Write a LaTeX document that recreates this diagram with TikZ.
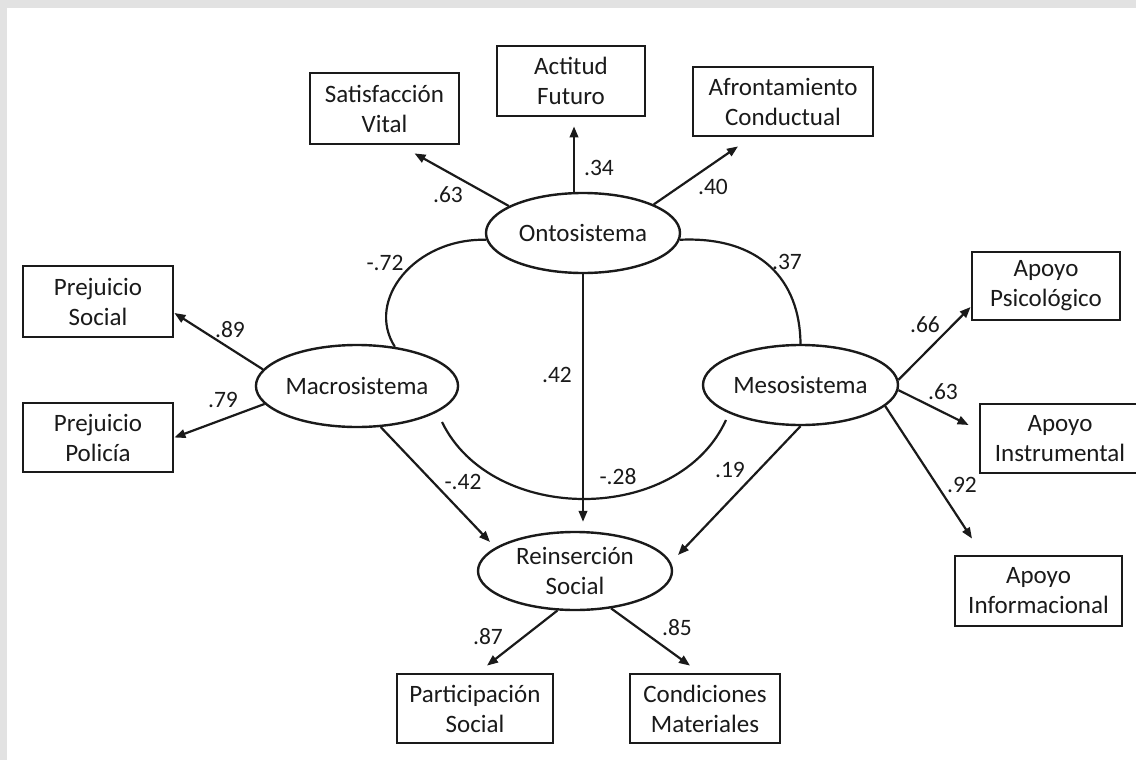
\documentclass[tikz,border=0pt]{standalone}
\usepackage{fontspec}
\setmainfont{Carlito}
\usetikzlibrary{shapes.geometric,arrows.meta}
\definecolor{ink}{HTML}{1A1A1A}
\definecolor{frame}{HTML}{E2E2E2}
\begin{document}
\begin{tikzpicture}[x=1pt,y=-1pt,
  box/.style={draw=ink, line width=2.8pt, inner sep=0pt, align=center, text=ink,
    font=\fontsize{25}{30}\selectfont},
  lat/.style={draw=ink, ellipse, line width=2.4pt, inner sep=0pt, align=center, text=ink,
    minimum width=194pt, minimum height=80pt, font=\fontsize{25}{30}\selectfont},
  arr/.style={draw=ink, line width=2.2pt, -{Triangle[length=11pt,width=8.5pt]}},
  cov/.style={draw=ink, line width=2.2pt},
  lab/.style={inner sep=0pt, text=ink, font=\fontsize{23.5}{28}\selectfont}]
\useasboundingbox (0,0) rectangle (1136,760);
\fill[frame] (0,0) rectangle (1136,760);
\fill[white] (7,8) rectangle (1136,760);

% observed variables
\node[box, minimum width=149pt, minimum height=71pt] (sat) at (384.5,108.5) {Satisfacción\\Vital};
\node[box, minimum width=148pt, minimum height=70pt] (act) at (571,81) {Actitud\\Futuro};
\node[box, minimum width=180pt, minimum height=69pt] (afr) at (783,101.5) {Afrontamiento\\Conductual};
\node[box, minimum width=150pt, minimum height=71pt] (prejs) at (98,301.5) {Prejuicio\\Social};
\node[box, minimum width=150pt, minimum height=69pt] (prejp) at (98,437.5) {Prejuicio\\Policía};
\node[box, minimum width=148pt, minimum height=68pt] (psic) at (1046,286) {Apoyo\\Psicológico};
\node[box, minimum width=160pt, minimum height=69pt] (instr) at (1060,438.5) {Apoyo\\Instrumental};
\node[box, minimum width=167pt, minimum height=70pt] (inf) at (1038.5,591) {Apoyo\\Informacional};
\node[box, minimum width=156pt, minimum height=69pt] (part) at (475,708.5) {Participación\\Social};
\node[box, minimum width=150pt, minimum height=69pt] (cond) at (705,708.5) {Condiciones\\Materiales};

% latent variables
\node[lat] (onto) at (583,233) {Ontosistema};
\node[lat, minimum height=82pt] (macro) at (357,386) {Macrosistema};
\node[lat, minimum width=195pt] (meso) at (800.5,385) {Mesosistema};
\node[lat, minimum height=78pt] (reins) at (575,571) {Reinserción\\Social};

% loadings
\draw[arr] (onto.160) -- ([xshift=30pt,yshift=-8pt]sat.south);
\draw[arr] ([xshift=-9pt]onto.north) -- ([xshift=3pt,yshift=-9pt]act.south);
\draw[arr] (onto.22) -- ([xshift=-45pt,yshift=-9pt]afr.south);
\draw[arr] (macro.170) -- ([yshift=-11.5pt]prejs.east);
\draw[arr] (macro.191) -- (prejp.east);
\draw[arr] (meso.3) -- ([yshift=-21pt]psic.west);
\draw[arr] (meso.357) -- ([xshift=-10pt,yshift=13.5pt]instr.west);
\draw[arr] (meso.346) -- ([xshift=-66.5pt,yshift=16pt]inf.north);
\draw[arr] (reins.246) -- ([xshift=12pt,yshift=7pt]part.north);
\draw[arr] (reins.314) -- ([xshift=-15pt,yshift=7pt]cond.north);

% structural paths
\draw[arr] (macro.300) -- ([xshift=-85pt,yshift=29pt]reins.center);
\draw[arr] (onto.south) -- ([xshift=8pt,yshift=9pt]reins.north);
\draw[arr] (meso.south) -- ([xshift=103pt,yshift=16pt]reins.center);

% covariances
\draw[cov] (onto.184) .. controls (415,238) and (365,300) .. (macro.46);
\draw[cov] (onto.356) .. controls (760,236) and (800,280) .. (meso.north);
\draw[cov] ([xshift=85pt,yshift=-36pt]macro.center) .. controls (492,525) and (678,525) .. ([xshift=-74.5pt,yshift=-35pt]meso.center);

% labels
\node[lab] (l63a) at (448,195) {.63};
\node[lab] (l34) at (599,168) {.34};
\node[lab] (l40) at (713,187) {.40};
\node[lab] (l89) at (230,330) {.89};
\node[lab] (l79) at (223,400) {.79};
\node[lab] (l72) at (385,263) {-.72};
\node[lab] (l37) at (787,262) {.37};
\node[lab] (l42a) at (557,375) {.42};
\node[lab] (l42b) at (463,482) {-.42};
\node[lab] (l28) at (618,477) {-.28};
\node[lab] (l19) at (730,470) {.19};
\node[lab] (l66) at (925,325) {.66};
\node[lab] (l63b) at (943,392) {.63};
\node[lab] (l92) at (962,485) {.92};
\node[lab] (l87) at (488,637) {.87};
\node[lab] (l85) at (677,628) {.85};
\end{tikzpicture}
\end{document}
